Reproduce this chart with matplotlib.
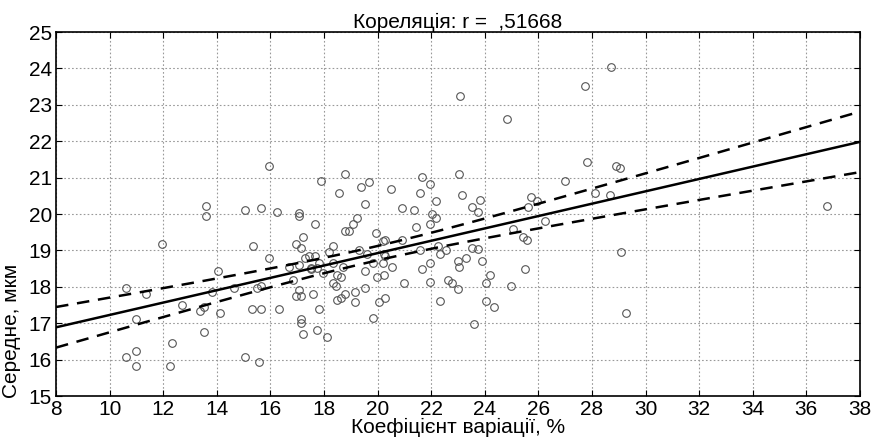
import numpy as np
import matplotlib.pyplot as plt

plt.rcParams['font.family'] = ['Liberation Sans', 'DejaVu Sans']

# Коефіцієнт варіації, % / Середне, мкм
cv = [10.6, 10.6, 10.97, 10.97, 10.97, 11.35, 11.95, 12.33, 12.25, 12.7,
      13.37, 13.52, 13.52, 13.6, 13.6, 13.83, 14.03, 14.12, 14.65, 15.04,
      15.04, 15.34, 15.33, 15.49, 15.64, 15.56, 15.64, 15.64, 15.94, 15.94,
      16.25, 16.31, 16.68, 16.84, 16.97, 17.06, 17.06, 17.06, 17.06, 16.96,
      17.13, 17.13, 17.13, 17.13, 17.22, 17.21, 17.29, 17.44, 17.52, 17.6,
      17.67, 17.66, 17.75, 17.81, 17.8, 17.75, 17.98, 18.12, 18.19, 18.35,
      18.35, 18.35, 18.45, 18.48, 18.47, 18.65, 18.63, 18.72, 18.8, 18.79,
      18.94, 19.1, 19.17, 19.17, 19.24, 19.32, 19.54, 19.54, 19.54, 19.61,
      19.84, 19.84, 19.93, 19.99, 20.07, 20.23, 20.22, 20.29, 20.29, 20.23,
      20.52, 20.9, 20.97, 20.9, 21.35, 21.42, 21.58, 21.65, 21.96, 21.96,
      21.96, 22.03, 22.18, 22.18, 22.25, 22.33, 22.33, 22.55, 22.63, 22.79,
      23.0, 23.01, 23.05, 23.3, 23.53, 23.76, 23.9, 24.21, 24.06, 24.06,
      24.36, 23.61, 24.97, 25.5, 25.04, 25.41, 25.56, 26.25, 25.71, 25.62,
      25.95, 26.99, 27.74, 28.71, 27.81, 28.88, 29.03, 28.11, 28.66, 29.1,
      29.26, 36.77, 24.82, 23.07, 23.05, 23.15, 23.53, 23.76, 23.83, 21.65,
      21.58, 21.96, 20.51, 19.69, 19.39, 18.8, 18.56, 17.88, 20.19, 20.29,
      17.5]
mean = [17.98, 16.06, 17.11, 16.24, 15.83, 17.79, 19.19, 16.46, 15.83, 17.5,
        17.33, 17.45, 16.76, 20.23, 19.95, 17.85, 18.44, 17.29, 17.98, 20.11,
        16.06, 19.12, 17.4, 17.98, 18.02, 15.94, 20.16, 17.4, 18.78, 21.33,
        20.05, 17.4, 18.55, 18.2, 19.19, 20.02, 19.94, 18.6, 17.91, 17.75,
        17.75, 17.11, 17.0, 19.07, 19.37, 16.7, 18.78, 18.86, 18.5, 17.8,
        18.85, 19.72, 16.81, 17.39, 18.65, 18.51, 18.37, 16.63, 18.96, 19.13,
        18.66, 18.1, 18.02, 17.63, 18.32, 18.27, 17.68, 18.55, 19.54, 17.8,
        19.54, 19.72, 17.86, 17.57, 19.89, 19.01, 20.28, 18.43, 17.98, 18.89,
        17.15, 18.66, 19.47, 18.27, 17.57, 18.32, 18.66, 17.68, 19.3, 18.89,
        18.55, 19.3, 18.1, 20.17, 20.12, 19.65, 19.01, 18.5, 19.72, 18.66,
        18.14, 19.99, 19.89, 20.35, 19.12, 18.9, 17.62, 19.01, 18.2, 18.1,
        17.93, 18.71, 18.55, 18.78, 19.08, 19.04, 18.72, 18.32, 18.1, 17.62,
        17.45, 16.98, 18.03, 18.5, 19.6, 19.38, 19.29, 19.82, 20.46, 20.18,
        20.35, 20.92, 23.53, 24.05, 21.44, 21.33, 21.26, 20.58, 20.52, 18.96,
        17.27, 20.22, 22.6, 23.25, 21.1, 20.52, 20.18, 20.05, 20.39, 21.03,
        20.57, 20.82, 20.69, 20.87, 20.74, 21.09, 20.57, 20.92, 19.25, 18.85,
        18.51]

x = np.array(cv)
y = np.array(mean)
n = len(x)
b, a = np.polyfit(x, y, 1)

# лінія регресії та 95% довірчі межі
xx = np.linspace(8, 38, 200)
yy = a + b * xx
resid = y - (a + b * x)
s = np.sqrt(np.sum(resid ** 2) / (n - 2))
sxx = np.sum((x - x.mean()) ** 2)
ci = 1.975 * s * np.sqrt(1.0 / n + (xx - x.mean()) ** 2 / sxx)

fig = plt.figure(figsize=(8.81, 4.48), dpi=100)
ax = fig.add_axes([0.0636, 0.116, 0.9125, 0.8125])
ax.grid(True, linestyle=(0, (1.5, 2)), color='#999999', linewidth=0.8)
ax.set_axisbelow(True)
ax.plot(x, y, 'o', markerfacecolor='none', markeredgecolor='#555555',
        markersize=5.5, markeredgewidth=0.8)
ax.plot(xx, yy, '-', color='black', linewidth=1.8)
ax.plot(xx, yy + ci, '--', color='black', linewidth=1.8, dashes=(5, 3.5))
ax.plot(xx, yy - ci, '--', color='black', linewidth=1.8, dashes=(5, 3.5))

ax.set_xlim(8, 38)
ax.set_ylim(15, 25)
ax.set_xticks(np.arange(8, 39, 2))
ax.set_yticks(np.arange(15, 26, 1))
ax.tick_params(direction='in', top=True, right=True, labelsize=15, length=4, pad=3)
for sp in ax.spines.values():
    sp.set_linewidth(1.2)
ax.set_title('Кореляція: r =  ,51668', fontsize=15, pad=3)
ax.set_xlabel('Коефіцієнт варіації, %', fontsize=15, labelpad=-1)
ax.set_ylabel('Середне, мкм', fontsize=15)
ax.yaxis.set_label_coords(-0.043, 0.18)

fig.savefig('out.png', dpi=100)
